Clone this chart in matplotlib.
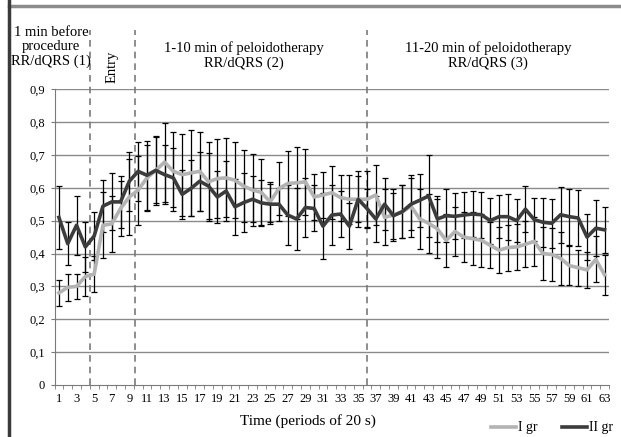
import numpy as np
import matplotlib
matplotlib.use("Agg")
import matplotlib.pyplot as plt
from matplotlib.lines import Line2D

plt.rcParams['font.family'] = ['Liberation Serif', 'DejaVu Serif']

periods = list(range(1, 64))

# I gr (light grey)
gr1 = [0.28, 0.297, 0.30, 0.33, 0.337, 0.486, 0.49, 0.537, 0.572, 0.593,
       0.63, 0.653, 0.678, 0.65, 0.64, 0.645, 0.65, 0.618, 0.628, 0.63,
       0.623, 0.605, 0.593, 0.586, 0.557, 0.598, 0.613, 0.615, 0.618, 0.572,
       0.578, 0.585, 0.57, 0.565, 0.565, 0.565, 0.578, 0.51, 0.517, 0.527,
       0.544, 0.505, 0.492, 0.475, 0.44, 0.467, 0.45, 0.445, 0.44, 0.425,
       0.41, 0.418, 0.42, 0.428, 0.437, 0.40, 0.397, 0.385, 0.363, 0.357,
       0.35, 0.382, 0.335]
err1 = [0.04, 0.042, 0.038, 0.06, 0.055, 0.1, 0.085, 0.085, 0.115, 0.105,
        0.1, 0.105, 0.12, 0.12, 0.125, 0.13, 0.12, 0.12, 0.12, 0.12,
        0.115, 0.11, 0.11, 0.1, 0.06, 0.08, 0.1, 0.11, 0.1, 0.07,
        0.07, 0.08, 0.07, 0.075, 0.085, 0.085, 0.09, 0.085, 0.08, 0.08,
        0.095, 0.09, 0.09, 0.09, 0.08, 0.075, 0.075, 0.08, 0.08, 0.07,
        0.07, 0.07, 0.07, 0.07, 0.075, 0.08, 0.08, 0.08, 0.06, 0.055,
        0.055, 0.07, 0.06]

# II gr (dark grey)
gr2 = [0.51, 0.43, 0.486, 0.42, 0.453, 0.544, 0.557, 0.557, 0.62, 0.65,
       0.638, 0.653, 0.64, 0.63, 0.58, 0.598, 0.62, 0.605, 0.572, 0.59,
       0.542, 0.555, 0.565, 0.554, 0.55, 0.55, 0.517, 0.505, 0.54, 0.537,
       0.483, 0.517, 0.52, 0.483, 0.565, 0.537, 0.505, 0.55, 0.515, 0.527,
       0.55, 0.562, 0.575, 0.505, 0.515, 0.513, 0.517, 0.52, 0.518, 0.50,
       0.512, 0.512, 0.50, 0.535, 0.503, 0.495, 0.492, 0.518, 0.512, 0.508,
       0.45, 0.477, 0.472]
err2 = [0.095, 0.065, 0.09, 0.075, 0.072, 0.08, 0.087, 0.08, 0.09, 0.09,
        0.105, 0.1, 0.09, 0.09, 0.075, 0.085, 0.09, 0.1, 0.08, 0.09,
        0.085, 0.09, 0.07, 0.07, 0.06, 0.05, 0.09, 0.095, 0.09, 0.07,
        0.1, 0.09, 0.07, 0.07, 0.07, 0.06, 0.07, 0.08, 0.07, 0.08,
        0.08, 0.08, 0.125, 0.07, 0.08, 0.07, 0.07, 0.07, 0.07, 0.07,
        0.065, 0.07, 0.065, 0.07, 0.065, 0.075, 0.075, 0.085, 0.085, 0.085,
        0.07, 0.085, 0.07]

section_bounds = [4.5, 9.6, 36.0]
yticks = np.arange(0, 0.91, 0.1)
ylabels = ['0'] + ['{:.1f}'.format(v).replace('.', ',') for v in yticks[1:]]

fig = plt.figure(figsize=(6.21, 4.37), dpi=100)
ax = fig.add_axes([0.0878, 0.119, 0.8929, 0.677])

for y in yticks[1:]:
    ax.axhline(y, color='#8a8a8a', lw=1.0, zorder=0)

ax.errorbar(periods, gr1, yerr=err1, fmt='none', ecolor='black', elinewidth=0.9,
            capsize=2.5, capthick=0.9, zorder=2)
ax.errorbar(periods, gr2, yerr=err2, fmt='none', ecolor='black', elinewidth=0.9,
            capsize=2.5, capthick=0.9, zorder=2)
l1, = ax.plot(periods, gr1, color='#b3b3b3', lw=2.6, zorder=3, label='I gr')
l2, = ax.plot(periods, gr2, color='#3c3c3c', lw=2.6, zorder=4, label='II gr')

for b in section_bounds:
    ax.axvline(b, ymin=0, ymax=1.2, color='#7a7a7a', lw=1.2, ls=(0, (4, 3)),
               clip_on=False, zorder=1)

ax.set_xlim(0.5, 63.5)
ax.set_ylim(0, 0.9)
ax.set_yticks(yticks)
ax.set_yticklabels(ylabels, fontsize=9)
ax.set_xticks(periods[::2])
ax.set_xticklabels([str(p) for p in periods[::2]], fontsize=9)
ax.set_xticks(np.arange(0.5, 64, 1), minor=True)
ax.tick_params(axis='x', which='major', length=0, pad=6)
ax.tick_params(axis='x', which='minor', length=3, color='#7a7a7a', direction='out')
ax.tick_params(axis='y', length=3, color='#7a7a7a', pad=4)

for s in ['top', 'right']:
    ax.spines[s].set_visible(False)
ax.spines['left'].set_color('#7a7a7a')
ax.spines['bottom'].set_color('#7a7a7a')

fig.text(308 / 621, 1 - 421 / 437, 'Time (periods of 20 s)', ha='center', va='center', fontsize=11)

fig.text(51 / 621, 1 - 47 / 437, '1 min before\nprocedure\nRR/dQRS (1)', ha='center', va='center',
         fontsize=10.5, linespacing=1.1)
fig.text(112 / 621, 1 - 67 / 437, 'Entry', ha='center', va='center', rotation=90, fontsize=10.5)
fig.text(244 / 621, 1 - 56 / 437, '1-10 min of peloidotherapy\nRR/dQRS (2)', ha='center', va='center',
         fontsize=10.5, linespacing=1.15)
fig.text(488 / 621, 1 - 56 / 437, '11-20 min of peloidotherapy\nRR/dQRS (3)', ha='center', va='center',
         fontsize=10.5, linespacing=1.15)

fig.legend(handles=[l1, l2], loc='center', bbox_to_anchor=(552 / 621, 1 - 428 / 437), ncol=2,
           frameon=False, fontsize=10, handlelength=1.8, handletextpad=0.1, columnspacing=1.8,
           borderpad=0.1)

# frame of the original figure: grey line on top, dark line on the left
fig.add_artist(Line2D([9 / 621, 1], [1 - 6 / 437, 1 - 6 / 437], color='#8c8c8c', lw=2.5))
fig.add_artist(Line2D([9 / 621, 9 / 621], [0, 1], color='#3a3a3a', lw=2.5))

fig.savefig('out.png', dpi=100)
